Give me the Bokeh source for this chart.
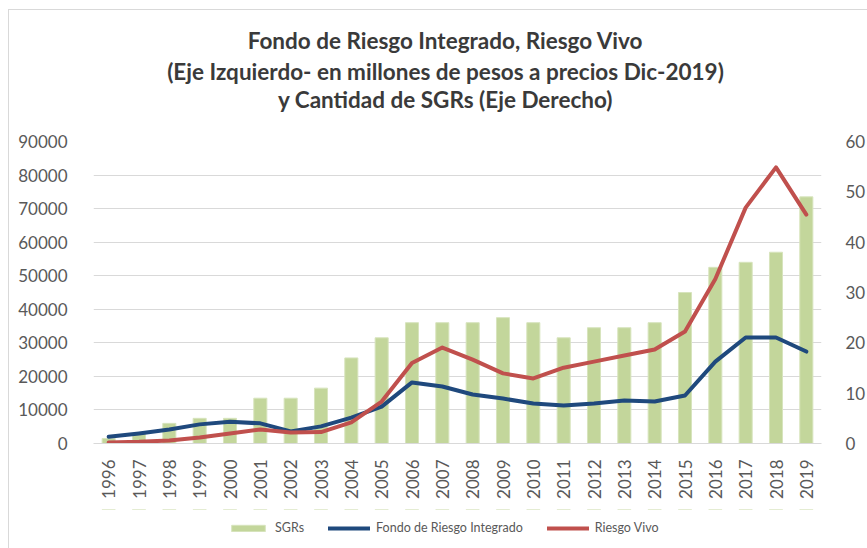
from bokeh.plotting import figure
from bokeh.layouts import column
from bokeh.models import Range1d, LinearAxis, FixedTicker, Legend, LegendItem, ColumnDataSource, Label
from bokeh.embed import file_html
from bokeh.resources import INLINE
import math

years = list(range(1996, 2020))
sgrs = [1, 2, 4, 5, 5, 9, 9, 11, 17, 21, 24, 24, 24, 25, 24, 21, 23, 23, 24, 30, 35, 36, 38, 49]
fondo = [2000, 3000, 4200, 5700, 6500, 6000, 3600, 5100, 7700, 11000, 18200, 17000, 14600,
         13400, 11900, 11300, 11900, 12800, 12500, 14300, 24400, 31600, 31600, 27400]
vivo = [300, 500, 900, 1800, 3000, 4200, 3300, 3400, 6300, 12500, 24000, 28600, 25000,
        20900, 19400, 22600, 24400, 26200, 28000, 33400, 49000, 70300, 82300, 68200]
left_ticks = list(range(0, 90001, 10000))
right_ticks = list(range(0, 61, 10))
title_lines = ["Fondo de Riesgo Integrado, Riesgo Vivo",
               "(Eje Izquierdo- en millones de pesos a precios Dic-2019)",
               "y Cantidad de SGRs (Eje Derecho)"]
series_names = ["SGRs", "Fondo de Riesgo Integrado", "Riesgo Vivo"]

FONT = "Lato"
TXT = "#595959"
C_BAR, C_BAR_EDGE, C_FONDO, C_VIVO = "#c3d69b", "#d7e4bd", "#1f497d", "#c0504d"
W = 859

src = ColumnDataSource(dict(year=years, sgrs=sgrs, fondo=fondo, vivo=vivo))

# ---------------- title strip (its frame is aligned with the chart's frame) ----------------
tf = figure(width=W, height=109, output_backend="svg", toolbar_location=None,
            x_axis_type=None, y_axis_type=None, x_range=Range1d(0, 1), y_range=Range1d(0, 1),
            min_border=0)
tf.outline_line_color = None
tf.grid.visible = False
for txt, yy in zip(title_lines, [79, 48, 20]):
    tf.add_layout(Label(x=352, y=yy, x_units="screen", y_units="screen", text=txt,
                        text_align="center", text_baseline="middle", text_font=FONT,
                        text_font_style="bold", text_font_size="22.5px", text_color="#3a3a3a"))

# ---------------- main chart ----------------
p = figure(width=W, height=390, output_backend="svg", toolbar_location=None,
           x_range=Range1d(years[0] - 0.5, years[-1] + 0.5), y_range=Range1d(0, 90000),
           min_border_left=84, min_border_right=43, min_border_top=22, min_border_bottom=66)
p.extra_y_ranges = {"sgr": Range1d(0, 60)}
p.outline_line_color = None

p.xaxis.ticker = FixedTicker(ticks=years)
p.xaxis.major_label_orientation = math.pi / 2
p.xaxis.major_label_standoff = 10
p.xaxis.axis_line_color = "#d9d9d9"
p.xaxis.major_tick_line_color = None
p.xaxis.minor_tick_line_color = None
p.xaxis.major_label_text_font = FONT
p.xaxis.major_label_text_font_size = "17px"
p.xaxis.major_label_text_color = TXT

p.yaxis.ticker = FixedTicker(ticks=left_ticks)
p.yaxis.axis_line_color = None
p.yaxis.major_tick_line_color = None
p.yaxis.minor_tick_line_color = None
p.yaxis.major_label_standoff = 20
p.yaxis.major_label_text_font = FONT
p.yaxis.major_label_text_font_size = "17px"
p.yaxis.major_label_text_color = TXT

ra = LinearAxis(y_range_name="sgr", ticker=FixedTicker(ticks=right_ticks))
ra.axis_line_color = None
ra.major_tick_line_color = None
ra.minor_tick_line_color = None
ra.major_label_standoff = 18
ra.major_label_text_font = FONT
ra.major_label_text_font_size = "17px"
ra.major_label_text_color = TXT
p.add_layout(ra, "right")

p.xgrid.grid_line_color = None
p.ygrid.ticker = FixedTicker(ticks=left_ticks)
p.ygrid.grid_line_color = "#d9d9d9"
p.ygrid.grid_line_width = 1

p.vbar(x="year", top="sgrs", width=0.43, source=src, y_range_name="sgr",
       fill_color=C_BAR, line_color=C_BAR_EDGE, line_width=1)
p.line(x="year", y="fondo", source=src, line_color=C_FONDO, line_width=4,
       line_join="round", line_cap="round")
p.line(x="year", y="vivo", source=src, line_color=C_VIVO, line_width=4,
       line_join="round", line_cap="round")

# ---------------- legend strip ----------------
# proxy renderers share the chart data but lie above this strip's ranges, so only
# their legend swatches are shown
lf = figure(width=W, height=39, output_backend="svg", toolbar_location=None,
            x_axis_type=None, y_axis_type=None,
            x_range=Range1d(years[0] - 0.5, years[-1] + 0.5), y_range=Range1d(-2, -1),
            min_border=0)
lf.extra_y_ranges = {"lines": Range1d(-200000, -100000)}
lf.outline_line_color = None
lf.grid.visible = False
rb = lf.vbar(x="year", top="sgrs", width=0.43, source=src, fill_color=C_BAR, line_color=C_BAR_EDGE)
r1 = lf.line(x="year", y="fondo", source=src, y_range_name="lines",
             line_color=C_FONDO, line_width=4, line_cap="round")
r2 = lf.line(x="year", y="vivo", source=src, y_range_name="lines",
             line_color=C_VIVO, line_width=4, line_cap="round")
legend = Legend(items=[LegendItem(label=series_names[0], renderers=[rb]),
                       LegendItem(label=series_names[1], renderers=[r1]),
                       LegendItem(label=series_names[2], renderers=[r2])],
                orientation="horizontal", location=(134, 13),
                glyph_width=42, glyph_height=8, label_standoff=6, spacing=24,
                padding=0, margin=0, border_line_color=None, background_fill_alpha=0,
                label_text_font=FONT, label_text_font_size="12.5px", label_text_color=TXT,
                label_height=14)
lf.add_layout(legend, "center")

layout = column(tf, p, lf, spacing=0, margin=(9, 0, 0, 8),
                styles={"border-left": "1px solid #d9d9d9", "border-top": "1px solid #d9d9d9"})
open("out.html", "w").write(file_html(layout, INLINE))
